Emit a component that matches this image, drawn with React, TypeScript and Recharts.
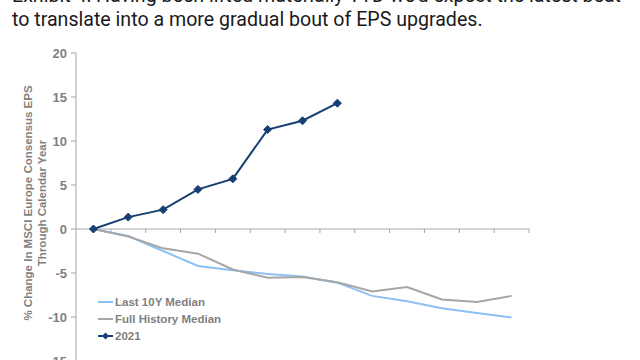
import { LineChart, Line, XAxis, YAxis, ReferenceLine, Legend } from 'recharts'

// 13 periods through the calendar year; the 2021 line stops at the 8th
const periods = ['P1', 'P2', 'P3', 'P4', 'P5', 'P6', 'P7', 'P8', 'P9', 'P10', 'P11', 'P12', 'P13']
const last10Y = [0, -0.8, -2.5, -4.2, -4.7, -5.1, -5.4, -6.1, -7.6, -8.2, -9.0, -9.55, -10.05]
const fullHistory = [0, -0.85, -2.2, -2.8, -4.6, -5.55, -5.45, -6.05, -7.1, -6.6, -8.0, -8.3, -7.6]
const y2021 = [0, 1.35, 2.2, 4.5, 5.7, 11.3, 12.3, 14.3]
const yTicks = [-15, -10, -5, 0, 5, 10, 15, 20]

const NAVY = '#173e72'
const LIGHT_BLUE = '#8cc0f5'
const GREY = '#a6a6a6'
const TEXT_GREY = '#7f7f7f'
const FONT = 'Liberation Sans, Arial, sans-serif'

const chartData = periods.map((p, i) => ({
  idx: i,
  period: p,
  last10Y: last10Y[i],
  fullHistory: fullHistory[i],
  y2021: i < y2021.length ? y2021[i] : null
}))

const legendItems = [
  { name: 'Last 10Y Median', color: LIGHT_BLUE, marker: false },
  { name: 'Full History Median', color: GREY, marker: false },
  { name: '2021', color: NAVY, marker: true }
]

const Diamond = (props: any) => {
  const { cx, cy } = props
  if (cx == null || cy == null) return null
  const r = 4
  return (
    <polygon
      points={`${cx},${cy - r} ${cx + r},${cy} ${cx},${cy + r} ${cx - r},${cy}`}
      fill={NAVY}
      stroke={NAVY}
    />
  )
}

// zero line with small tick marks on the category boundaries (excel style)
const ZeroAxis = (props: any) => {
  const { x1, y1, x2 } = props
  if (x1 == null) return null
  const step = (x2 - x1) / periods.length
  return (
    <g>
      <line x1={x1} y1={y1} x2={x2} y2={y1} stroke={GREY} strokeWidth={1} />
      {periods.map((_, k) => (
        <line key={k} x1={x1 + (k + 1) * step} y1={y1} x2={x1 + (k + 1) * step} y2={y1 + 4} stroke={GREY} />
      ))}
    </g>
  )
}

const LegendBox = () => (
  <div style={{ fontFamily: FONT, fontSize: 11.5, fontWeight: 'bold', color: TEXT_GREY }}>
    {legendItems.map(item => (
      <div key={item.name} style={{ display: 'flex', alignItems: 'center', height: 17 }}>
        <svg width={17} height={10} style={{ marginRight: 1 }}>
          <line x1={1} y1={5} x2={16} y2={5} stroke={item.color} strokeWidth={2} />
          {item.marker && <polygon points="8.5,1.5 12,5 8.5,8.5 5,5" fill={item.color} />}
        </svg>
        <span>{item.name}</span>
      </div>
    ))}
  </div>
)

export default function App() {
  return (
    <div style={{ position: 'absolute', left: 0, top: 0, width: 640, height: 360, overflow: 'hidden', background: '#fff' }}>
      <div
        style={{
          position: 'absolute',
          left: 12,
          top: -16,
          fontFamily: 'Roboto, sans-serif',
          fontSize: 19.6,
          lineHeight: '24px',
          color: '#1a1a1a',
          whiteSpace: 'nowrap'
        }}
      >
        <div>Exhibit 4: Having been lifted materially YTD we'd expect the latest beat</div>
        <div>to translate into a more gradual bout of EPS upgrades.</div>
      </div>

      <div style={{ position: 'absolute', left: 0, top: 0 }}>
        <LineChart width={640} height={380} data={chartData} margin={{ top: 53, right: 111, bottom: 19, left: 36 }}>
          <XAxis dataKey="idx" type="number" domain={[-0.5, periods.length - 0.5]} hide />
          <YAxis
            width={40}
            domain={[-15, 20]}
            ticks={yTicks}
            interval={0}
            stroke={GREY}
            tickSize={5}
            tickMargin={4}
            tick={{ fill: TEXT_GREY, fontSize: 13, fontWeight: 'bold', fontFamily: FONT }}
            tickLine={{ stroke: GREY }}
            label={{
              content: () => (
                <g transform="translate(35,203) rotate(-90)" fontFamily={FONT} fontSize={11.5} fontWeight="bold" fill={TEXT_GREY} textAnchor="middle">
                  <text x={0} y={-3}>% Change In MSCI Europe Consensus EPS</text>
                  <text x={0} y={11}>Through Calendar Year</text>
                </g>
              )
            }}
          />
          <ReferenceLine y={0} shape={ZeroAxis} />
          <Legend
            content={LegendBox}
            layout="vertical"
            align="center"
            verticalAlign="middle"
            wrapperStyle={{ position: 'absolute', left: 97, top: 293, width: 'auto' }}
          />
          <Line dataKey="last10Y" name="Last 10Y Median" stroke={LIGHT_BLUE} strokeWidth={2} dot={false} isAnimationActive={false} />
          <Line dataKey="fullHistory" name="Full History Median" stroke={GREY} strokeWidth={2} dot={false} isAnimationActive={false} />
          <Line dataKey="y2021" name="2021" stroke={NAVY} strokeWidth={2} dot={<Diamond />} isAnimationActive={false} />
        </LineChart>
      </div>
    </div>
  )
}
